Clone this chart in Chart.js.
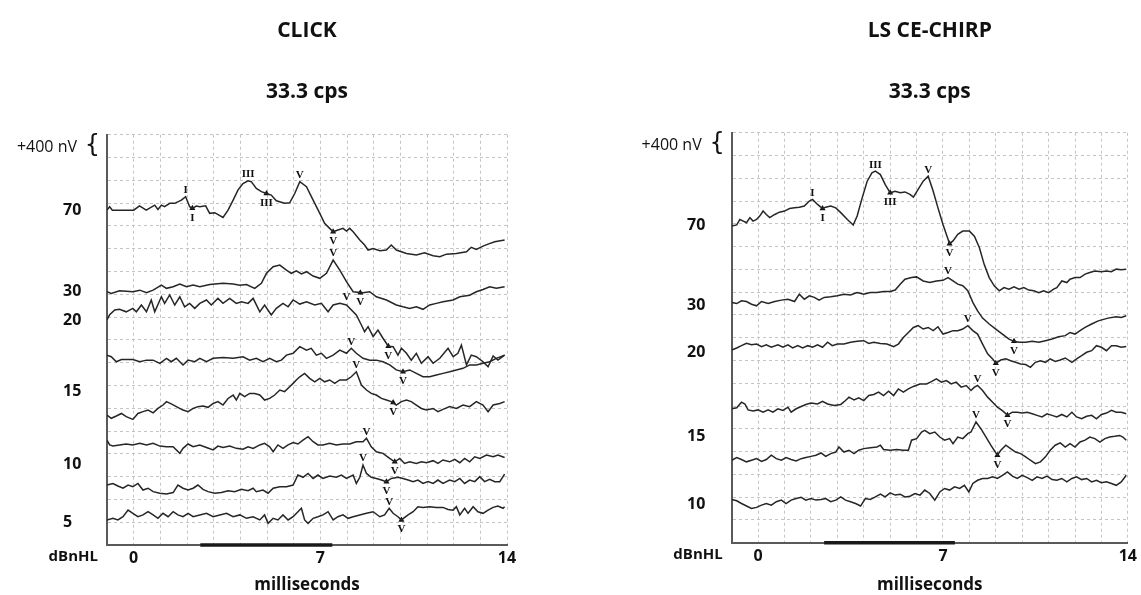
<!DOCTYPE html>
<html>
<head>
<meta charset="utf-8">
<title>ABR waveforms - Click vs LS CE-Chirp</title>
<script src="https://cdn.jsdelivr.net/npm/chart.js@4.4.1/dist/chart.umd.min.js"></script>
<style>
  html, body { margin: 0; padding: 0; background: #fff; }
  #wrap { position: relative; width: 1141px; height: 595px; overflow: hidden; }
  #clickChart { position: absolute; left: 0; top: 0; }
  #chirpChart { position: absolute; left: 600px; top: 0; }
</style>
</head>
<body>
<div id="wrap">
  <canvas id="clickChart" width="570" height="595"></canvas>
  <canvas id="chirpChart" width="541" height="595"></canvas>
</div>
<script>
// time axis in ms, amplitude in grid divisions (18 divisions, bottom = 0)
const xTickLabels = [0, 7, 14];
const stimulusBar = [2.5, 7.45];

// ---- CLICK, 33.3 cps ----
const clickLevels = ['70', '30', '20', '15', '10', '5'];
const clickLevelPos = [14.69, 11.14, 9.87, 6.75, 3.55, 1.0];

const click70 = [[-1,14.69],[-0.9,14.84],[-0.8,14.69],[0,14.69],[0.22,14.88],[0.47,14.69],[0.79,14.91],[0.91,14.72],[1.04,14.91],[1.16,14.84],[1.35,14.99],[1.54,14.99],[1.79,15.13],[1.95,15.28],[2.1,14.84],[2.2,14.77],[2.35,14.87],[2.48,14.84],[2.7,14.88],[2.85,14.55],[3.04,14.58],[3.35,14.37],[3.54,14.69],[3.73,15.13],[3.91,15.57],[4.1,15.86],[4.29,15.98],[4.41,15.94],[4.6,15.64],[4.79,15.5],[4.98,15.42],[5.16,15.35],[5.35,15.1],[5.66,14.99],[5.85,15.01],[6.04,15.42],[6.23,15.94],[6.48,15.72],[6.73,15.13],[6.98,14.55],[7.16,14.11],[7.35,13.89],[7.48,13.74],[7.66,13.82],[7.85,13.89],[7.98,13.77],[8.1,13.89],[8.23,13.74],[8.48,13.38],[8.66,13.16],[8.79,12.94],[8.98,13.01],[9.23,12.91],[9.48,12.94],[9.66,13.16],[9.85,12.94],[10.23,12.79],[10.6,12.72],[10.91,12.82],[11.23,12.69],[11.48,12.65],[11.73,12.76],[12.1,12.79],[12.48,12.86],[12.66,13.06],[12.85,12.97],[13.1,13.11],[13.29,13.2],[13.54,13.3],[13.91,13.38]];
const click30 = [[-1,11.11],[-0.84,11.04],[-0.53,11.15],[-0.03,11.11],[0.23,11.18],[0.48,11.07],[0.73,11.18],[1.04,11.4],[1.23,11.26],[1.48,11.33],[1.73,11.45],[1.98,11.33],[2.23,11.4],[2.48,11.33],[2.85,11.43],[3.35,11.48],[3.73,11.45],[3.98,11.4],[4.23,11.43],[4.54,11.26],[4.79,11.48],[4.98,11.92],[5.23,12.21],[5.48,12.28],[5.73,12.06],[5.91,11.92],[6.1,12.03],[6.29,11.89],[6.48,11.99],[6.73,11.8],[6.98,11.7],[7.23,11.92],[7.48,12.5],[7.73,12.06],[7.98,11.55],[8.23,11.11],[8.6,11.07],[8.85,11.11],[9.1,10.89],[9.48,10.75],[9.85,10.53],[10.1,10.45],[10.35,10.38],[10.6,10.45],[10.85,10.34],[11.1,10.53],[11.35,10.6],[11.6,10.67],[11.98,10.75],[12.23,10.89],[12.6,10.96],[12.85,11.11],[13.1,11.21],[13.35,11.33],[13.6,11.26],[13.91,11.33]];
const click20 = [[-1,9.87],[-0.9,10.1],[-0.71,10.31],[-0.53,10.34],[-0.28,10.23],[-0.03,10.38],[0.1,10.23],[0.29,10.53],[0.48,10.23],[0.66,10.75],[0.79,10.23],[1.04,10.89],[1.16,10.6],[1.35,10.97],[1.54,10.53],[1.73,10.89],[1.91,10.45],[2.1,10.6],[2.29,10.38],[2.48,10.6],[2.73,10.75],[2.91,10.53],[3.16,10.82],[3.35,10.6],[3.6,10.82],[3.85,10.6],[4.04,10.67],[4.29,10.6],[4.48,10.82],[4.73,10.23],[4.91,10.53],[5.16,10.09],[5.35,10.38],[5.6,10.6],[5.79,10.45],[5.98,10.75],[6.23,10.57],[6.48,10.67],[6.79,10.53],[7.04,10.6],[7.29,10.23],[7.48,10.53],[7.73,10.6],[7.98,10.53],[8.35,10.09],[8.54,9.65],[8.66,9.36],[8.79,9.58],[8.98,9.14],[9.16,9.43],[9.35,9.07],[9.55,8.72],[9.73,8.7],[9.91,8.33],[10.04,8.63],[10.23,8.41],[10.41,8.11],[10.6,8.41],[10.79,7.97],[11.04,8.26],[11.23,7.97],[11.48,8.19],[11.79,8.63],[11.98,8.26],[12.16,8.41],[12.29,8.77],[12.48,7.9],[12.66,8.33],[12.85,8.26],[13.1,8.04],[13.29,7.82],[13.48,8.29],[13.66,8.11],[13.91,8.33]];
const click15a = [[-1,8.33],[-0.84,8.26],[-0.65,8.04],[-0.46,8.14],[-0.03,8.14],[0.23,8.04],[0.48,8.11],[0.73,8.11],[0.98,7.97],[1.23,8.19],[1.41,8.04],[1.6,8.19],[1.85,7.9],[2.04,8.11],[2.29,8.04],[2.48,8.19],[2.73,8.04],[2.98,8.19],[3.35,8.23],[3.73,8.19],[4.1,8.26],[4.35,8.11],[4.6,8.19],[4.85,8.04],[5.1,8.19],[5.35,8.04],[5.54,8.11],[5.73,8.33],[5.98,8.41],[6.23,8.7],[6.48,8.55],[6.66,8.63],[6.85,8.33],[7.04,8.41],[7.23,8.19],[7.48,8.33],[7.73,8.55],[7.98,8.41],[8.16,8.63],[8.35,8.41],[8.6,8.19],[8.85,8.11],[9.1,8.11],[9.35,8.04],[9.6,7.9],[9.85,7.68],[10.1,7.6],[10.35,7.68],[10.6,7.53],[10.85,7.38],[11.1,7.38],[11.35,7.46],[11.6,7.53],[11.85,7.6],[12.1,7.68],[12.35,7.75],[12.6,7.9],[12.85,7.9],[13.1,7.97],[13.35,8.04],[13.6,8.19],[13.91,8.33]];
const click15b = [[-1,5.7],[-0.84,5.56],[-0.65,5.66],[-0.46,5.77],[-0.28,5.63],[-0.03,5.51],[0.16,5.77],[0.35,5.85],[0.54,5.92],[0.73,5.8],[0.91,5.99],[1.1,6.14],[1.23,6.29],[1.41,6.19],[1.6,6.07],[1.85,5.92],[2.04,5.85],[2.23,5.99],[2.41,6.07],[2.6,6.1],[2.79,6.04],[2.98,6.21],[3.16,6.29],[3.35,6.14],[3.54,6.43],[3.73,6.58],[3.85,6.36],[3.98,6.65],[4.16,6.51],[4.35,6.65],[4.54,6.65],[4.73,6.58],[4.91,6.36],[5.1,6.43],[5.29,6.58],[5.48,6.8],[5.66,6.73],[5.85,6.94],[5.98,7.09],[6.1,7.24],[6.23,7.38],[6.41,7.53],[6.6,7.31],[6.79,7.16],[6.98,7.31],[7.16,7.16],[7.35,7.24],[7.54,7.09],[7.73,7.24],[7.98,7.24],[8.16,7.38],[8.35,7.6],[8.54,7.02],[8.73,6.8],[8.91,6.65],[9.1,6.58],[9.29,6.43],[9.48,6.36],[9.66,6.29],[9.85,6.14],[10.04,6.29],[10.23,6.36],[10.41,6.29],[10.6,6.14],[10.79,5.99],[10.98,5.92],[11.23,5.99],[11.41,5.85],[11.6,5.95],[11.85,6.07],[12.1,5.99],[12.35,6.14],[12.6,6.07],[12.85,6.29],[13.1,6.14],[13.29,5.85],[13.48,6.14],[13.73,6.21],[13.91,6.29]];
const click10a = [[-1,4.6],[-0.9,4.39],[-0.78,4.34],[-0.53,4.39],[-0.28,4.43],[-0.03,4.39],[0.23,4.46],[0.48,4.39],[0.73,4.46],[0.98,4.34],[1.23,4.31],[1.48,4.31],[1.73,4.02],[1.85,4.24],[2.04,4.43],[2.23,4.31],[2.48,4.39],[2.73,4.28],[2.98,4.17],[3.16,4.34],[3.35,4.28],[3.6,4.34],[3.85,4.24],[4.1,4.2],[4.29,4.31],[4.48,4.24],[4.73,4.39],[4.91,4.46],[5.1,4.31],[5.23,4.09],[5.41,4.39],[5.6,4.24],[5.79,4.39],[5.98,4.49],[6.16,4.43],[6.35,4.6],[6.54,4.75],[6.73,4.53],[6.91,4.39],[7.1,4.39],[7.35,4.46],[7.6,4.39],[7.85,4.43],[8.1,4.43],[8.35,4.53],[8.6,4.53],[8.73,4.68],[8.91,4.31],[9.1,4.09],[9.35,4.02],[9.6,3.8],[9.79,3.65],[9.98,3.8],[10.16,3.58],[10.35,3.65],[10.6,3.58],[10.79,3.65],[10.98,3.61],[11.23,3.7],[11.41,3.58],[11.6,3.73],[11.85,3.65],[12.04,3.76],[12.23,3.61],[12.41,3.8],[12.6,3.65],[12.79,3.87],[12.98,3.8],[13.23,3.95],[13.48,3.87],[13.66,3.95],[13.91,3.84]];
const click10b = [[-1,2.63],[-0.78,2.7],[-0.59,2.59],[-0.4,2.49],[-0.21,2.63],[-0.03,2.56],[0.16,2.7],[0.35,2.41],[0.54,2.49],[0.73,2.34],[0.98,2.27],[1.23,2.24],[1.48,2.3],[1.66,2.63],[1.85,2.49],[2.04,2.41],[2.23,2.49],[2.41,2.63],[2.6,2.44],[2.79,2.34],[3.04,2.27],[3.29,2.3],[3.54,2.38],[3.79,2.34],[4.04,2.44],[4.29,2.38],[4.48,2.49],[4.6,2.34],[4.85,2.41],[5.04,2.27],[5.23,2.49],[5.48,2.56],[5.73,2.56],[5.98,2.63],[6.16,3.07],[6.35,2.97],[6.54,3.14],[6.73,2.92],[6.91,3.07],[7.1,2.92],[7.35,3.03],[7.6,2.97],[7.79,3.07],[7.98,2.92],[8.23,3.07],[8.35,2.7],[8.48,2.97],[8.6,3.51],[8.73,3.14],[8.91,2.97],[9.1,2.92],[9.29,2.85],[9.48,2.78],[9.66,2.92],[9.91,2.97],[10.1,2.92],[10.29,2.85],[10.48,2.78],[10.66,2.85],[10.85,2.7],[11.04,2.78],[11.23,2.7],[11.41,2.85],[11.6,2.7],[11.85,2.85],[12.04,2.78],[12.23,2.92],[12.41,2.7],[12.6,2.85],[12.79,2.78],[12.98,3.0],[13.16,2.78],[13.35,2.88],[13.54,2.78],[13.73,2.78],[13.91,3.11]];
const click5 = [[-1,1.1],[-0.78,1.17],[-0.59,1.1],[-0.4,1.24],[-0.21,1.53],[-0.03,1.39],[0.16,1.24],[0.35,1.32],[0.54,1.46],[0.73,1.32],[0.91,1.17],[1.1,1.39],[1.29,1.24],[1.48,1.46],[1.66,1.32],[1.85,1.24],[2.04,1.39],[2.23,1.24],[2.48,1.32],[2.73,1.39],[2.98,1.24],[3.23,1.32],[3.48,1.39],[3.73,1.24],[3.98,1.32],[4.23,1.17],[4.48,1.24],[4.73,1.1],[4.91,1.32],[5.04,0.95],[5.23,1.17],[5.41,1.1],[5.6,1.32],[5.79,1.1],[5.98,1.24],[6.16,1.46],[6.29,1.61],[6.41,1.1],[6.54,0.95],[6.73,1.17],[6.91,1.24],[7.1,1.32],[7.29,1.46],[7.48,1.1],[7.66,1.24],[7.85,1.32],[8.04,1.17],[8.23,1.24],[8.48,1.32],[8.73,1.39],[8.98,1.46],[9.23,1.24],[9.41,1.32],[9.58,1.61],[9.73,1.39],[9.91,1.24],[10.04,1.1],[10.29,1.32],[10.48,1.46],[10.66,1.68],[10.85,1.65],[11.1,1.68],[11.35,1.65],[11.6,1.65],[11.79,1.56],[11.98,1.53],[12.1,1.68],[12.23,1.32],[12.41,1.61],[12.54,1.39],[12.73,1.68],[12.91,1.46],[13.1,1.39],[13.29,1.53],[13.48,1.65],[13.66,1.71],[13.85,1.61],[13.91,1.68]];

// wave markers: [ms, amplitude, name]
const clickPeaks = [[1.95,15.28,'I'],[4.29,15.98,'III'],[6.23,15.94,'V'],[7.48,12.5,'V'],[7.98,10.6,'V'],[8.16,8.63,'V'],[8.35,7.6,'V'],[8.73,4.68,'V'],[8.6,3.51,'V'],[9.58,1.61,'V']];
const clickTroughs = [[2.2,14.77,'I'],[4.98,15.42,'III'],[7.48,13.74,'V'],[8.5,11.07,'V'],[9.55,8.72,'V'],[10.1,7.6,'V'],[9.73,6.25,'V'],[9.79,3.65,'V'],[9.48,2.78,'V'],[10.04,1.1,'V']];

// ---- LS CE-CHIRP, 33.3 cps ----
const chirpLevels = ['70', '30', '20', '15', '10'];
const chirpLevelPos = [13.95, 10.4, 8.35, 4.67, 1.69];

const chirp70 = [[-1,13.9],[-0.81,13.95],[-0.69,14.19],[-0.56,14.12],[-0.44,14.05],[-0.31,14.27],[-0.19,14.12],[-0.06,14.19],[0.06,14.34],[0.19,14.56],[0.31,14.41],[0.44,14.27],[0.63,14.41],[0.81,14.51],[1.0,14.56],[1.19,14.67],[1.38,14.7],[1.56,14.73],[1.75,14.78],[1.94,15.0],[2.06,15.07],[2.25,14.85],[2.44,14.67],[2.56,14.73],[2.75,14.78],[2.94,14.7],[3.13,14.49],[3.38,14.19],[3.6,13.95],[3.75,14.34],[3.94,15.14],[4.13,15.87],[4.31,16.24],[4.44,16.31],[4.63,16.16],[4.81,15.73],[5.0,15.36],[5.19,15.43],[5.38,15.36],[5.56,15.4],[5.75,15.29],[5.88,15.17],[6.06,15.51],[6.25,15.87],[6.44,16.09],[6.63,15.43],[6.81,14.7],[7.0,13.97],[7.25,13.13],[7.38,13.25],[7.56,13.54],[7.75,13.68],[8.0,13.68],[8.19,13.46],[8.38,12.95],[8.56,12.22],[8.75,11.64],[8.94,11.28],[9.13,11.06],[9.31,11.2],[9.5,11.13],[9.69,11.23],[9.88,11.13],[10.06,11.2],[10.25,11.09],[10.44,11.06],[10.63,10.98],[10.81,11.06],[11.0,10.98],[11.19,11.13],[11.31,11.2],[11.5,11.49],[11.69,11.42],[11.81,11.57],[12.0,11.64],[12.19,11.64],[12.38,11.79],[12.56,11.86],[12.75,11.93],[13.0,11.9],[13.19,11.93],[13.38,11.9],[13.56,12.01],[13.75,11.98],[13.94,12.01]];
const chirp30 = [[-1,10.55],[-0.81,10.5],[-0.63,10.62],[-0.44,10.59],[-0.25,10.47],[-0.06,10.4],[0.13,10.59],[0.38,10.5],[0.63,10.59],[0.88,10.65],[1.13,10.69],[1.38,10.59],[1.56,10.91],[1.75,10.69],[1.94,10.84],[2.13,10.77],[2.31,10.65],[2.5,10.77],[2.75,10.8],[3.0,10.84],[3.25,10.91],[3.5,10.88],[3.75,10.98],[4.0,10.91],[4.25,10.98],[4.5,10.98],[4.75,11.03],[5.0,11.03],[5.19,11.09],[5.38,11.35],[5.56,11.57],[5.81,11.64],[6.0,11.67],[6.25,11.49],[6.5,11.42],[6.75,11.49],[7.0,11.52],[7.19,11.64],[7.38,11.49],[7.56,11.35],[7.75,11.28],[7.94,11.06],[8.13,10.55],[8.31,10.18],[8.5,9.86],[8.75,9.6],[9.0,9.38],[9.25,9.16],[9.5,8.94],[9.69,8.84],[9.88,8.8],[10.13,8.8],[10.38,8.84],[10.63,8.8],[10.88,8.87],[11.13,8.94],[11.38,9.04],[11.63,9.09],[11.81,9.23],[12.0,9.16],[12.19,9.31],[12.38,9.45],[12.63,9.6],[12.88,9.74],[13.25,9.86],[13.56,9.92],[13.75,9.89],[13.94,9.96]];
const chirp20 = [[-1,8.46],[-0.81,8.55],[-0.63,8.65],[-0.44,8.75],[-0.25,8.69],[-0.06,8.72],[0.13,8.61],[0.31,8.69],[0.5,8.58],[0.75,8.69],[0.94,8.58],[1.13,8.69],[1.31,8.55],[1.5,8.65],[1.69,8.55],[1.88,8.65],[2.06,8.58],[2.25,8.69],[2.44,8.58],[2.63,8.8],[2.81,8.65],[3.0,8.72],[3.25,8.72],[3.5,8.8],[3.75,8.84],[4.0,8.87],[4.19,8.75],[4.38,8.8],[4.63,8.75],[4.88,8.72],[5.13,8.61],[5.31,8.72],[5.5,9.01],[5.69,9.23],[5.88,9.45],[6.06,9.53],[6.25,9.38],[6.44,9.45],[6.63,9.31],[6.81,9.48],[7.0,9.16],[7.19,9.23],[7.38,9.31],[7.56,9.31],[7.75,9.38],[7.94,9.53],[8.13,9.31],[8.31,9.16],[8.5,8.72],[8.69,8.29],[8.88,8.07],[9.0,7.88],[9.19,8.02],[9.38,8.07],[9.56,7.99],[9.75,7.92],[9.94,7.85],[10.13,7.82],[10.31,7.7],[10.5,7.92],[10.69,7.99],[10.88,7.92],[11.06,8.07],[11.25,7.96],[11.44,8.02],[11.63,8.11],[11.88,7.92],[12.06,8.07],[12.25,8.21],[12.44,8.36],[12.63,8.43],[12.81,8.65],[13.0,8.58],[13.19,8.43],[13.38,8.65],[13.56,8.65],[13.75,8.58],[13.94,8.61]];
const chirp15a = [[-1,5.88],[-0.81,5.92],[-0.63,6.17],[-0.5,6.09],[-0.38,5.83],[-0.19,5.78],[0,5.83],[0.19,5.73],[0.38,5.83],[0.56,5.73],[0.75,5.88],[0.94,5.81],[1.13,5.95],[1.25,5.73],[1.44,5.88],[1.63,5.98],[1.81,6.07],[2.0,6.13],[2.25,6.09],[2.44,6.21],[2.63,6.09],[2.88,6.02],[3.13,6.07],[3.31,6.24],[3.44,6.39],[3.63,6.27],[3.81,6.36],[4.0,6.24],[4.19,6.46],[4.38,6.51],[4.56,6.61],[4.75,6.46],[4.94,6.65],[5.13,6.46],[5.31,6.75],[5.5,6.61],[5.69,6.75],[5.88,6.86],[6.13,6.97],[6.38,6.97],[6.56,7.07],[6.75,7.19],[6.94,7.05],[7.13,7.12],[7.31,6.97],[7.5,7.05],[7.69,6.83],[7.88,6.9],[8.06,6.68],[8.19,6.83],[8.31,6.9],[8.5,6.68],[8.69,6.39],[8.88,6.17],[9.06,5.95],[9.25,5.8],[9.44,5.6],[9.63,5.73],[9.81,5.73],[10.0,5.69],[10.19,5.73],[10.38,5.66],[10.56,5.59],[10.75,5.52],[10.94,5.66],[11.13,5.59],[11.31,5.52],[11.5,5.63],[11.69,5.52],[11.88,5.73],[12.06,5.52],[12.25,5.44],[12.44,5.55],[12.63,5.59],[12.81,5.44],[13.0,5.63],[13.19,5.69],[13.38,5.81],[13.56,5.73],[13.75,5.73],[13.94,5.66]];
const chirp15b = [[-1,3.62],[-0.81,3.74],[-0.63,3.65],[-0.44,3.55],[-0.25,3.62],[-0.06,3.69],[0.13,3.57],[0.31,3.65],[0.5,3.84],[0.69,3.69],[0.88,3.62],[1.06,3.74],[1.25,3.65],[1.44,3.59],[1.63,3.69],[1.81,3.74],[2.0,3.79],[2.19,3.84],[2.38,3.94],[2.56,3.79],[2.75,3.91],[2.94,3.98],[3.06,4.2],[3.25,3.98],[3.44,4.06],[3.63,3.91],[3.81,4.06],[4.0,4.13],[4.25,4.17],[4.5,4.2],[4.63,4.28],[4.75,4.09],[5.0,4.06],[5.25,4.09],[5.5,4.06],[5.69,4.06],[5.81,4.5],[6.0,4.57],[6.19,4.86],[6.31,4.93],[6.5,4.79],[6.69,4.86],[6.88,4.64],[7.06,4.5],[7.25,4.57],[7.38,4.35],[7.56,4.64],[7.75,4.57],[7.94,4.79],[8.06,4.86],[8.25,5.3],[8.44,5.0],[8.63,4.64],[8.81,4.28],[9.06,3.84],[9.19,4.06],[9.38,4.28],[9.56,4.13],[9.75,3.98],[9.94,3.91],[10.13,3.77],[10.31,3.62],[10.5,3.47],[10.69,3.55],[10.88,3.77],[11.06,4.06],[11.25,4.28],[11.44,4.38],[11.63,4.2],[11.81,4.35],[12.0,4.2],[12.19,4.42],[12.38,4.5],[12.56,4.64],[12.75,4.57],[12.94,4.42],[13.13,4.57],[13.31,4.64],[13.5,4.67],[13.69,4.71],[13.81,4.64],[13.94,4.5]];
const chirp10 = [[-1,1.9],[-0.81,1.84],[-0.63,1.72],[-0.44,1.61],[-0.25,1.5],[-0.06,1.55],[0.13,1.65],[0.31,1.72],[0.5,1.65],[0.69,1.8],[0.88,1.87],[1.06,1.72],[1.25,1.87],[1.44,1.94],[1.63,1.99],[1.81,1.87],[2.0,1.94],[2.19,1.87],[2.38,1.9],[2.56,1.94],[2.75,1.8],[2.94,1.87],[3.13,2.01],[3.31,1.87],[3.5,1.8],[3.69,1.72],[3.88,1.61],[4.06,1.94],[4.25,1.9],[4.44,2.01],[4.63,2.13],[4.81,2.01],[5.0,2.19],[5.19,2.09],[5.38,2.13],[5.56,2.01],[5.75,2.04],[5.94,2.16],[6.13,2.09],[6.31,2.31],[6.5,2.16],[6.69,1.87],[6.88,2.23],[7.06,2.38],[7.25,2.31],[7.44,2.45],[7.63,2.38],[7.81,2.52],[7.98,2.23],[8.13,2.6],[8.31,2.74],[8.5,2.82],[8.69,2.82],[8.88,2.89],[9.06,2.82],[9.25,2.96],[9.44,3.11],[9.63,2.92],[9.81,2.82],[10.0,2.96],[10.19,2.86],[10.38,2.74],[10.56,2.89],[10.75,2.82],[10.94,2.92],[11.13,2.77],[11.31,2.74],[11.5,2.82],[11.69,2.67],[11.88,2.82],[12.06,2.89],[12.25,2.77],[12.44,2.82],[12.63,2.67],[12.81,2.74],[13.0,2.63],[13.19,2.67],[13.38,2.6],[13.56,2.52],[13.75,2.67],[13.94,2.96]];

const chirpPeaks = [[2.06,15.07,'I'],[4.44,16.31,'III'],[6.44,16.09,'V'],[7.19,11.64,'V'],[7.94,9.53,'V'],[8.31,6.9,'V'],[8.25,5.3,'V']];
const chirpTroughs = [[2.44,14.67,'I'],[5.0,15.36,'III'],[7.25,13.13,'V'],[9.69,8.84,'V'],[9.0,7.88,'V'],[9.44,5.6,'V'],[9.06,3.84,'V']];

const ink = '#111';
const traceColor = '#262626';
const gridColor = '#c4c4c4';
const sansBold = (size) => ({ family: 'Open Sans', weight: 'bold', size: size });

// wave names, the nV scale mark and the dBnHL caption
const waveLabels = {
    id: 'waveLabels',
    afterDatasetsDraw(chart, args, opts) {
        const { ctx, chartArea, scales: { x, y } } = chart;
        ctx.save();
        ctx.fillStyle = ink;
        ctx.textAlign = 'center';
        ctx.font = 'bold 11px "Liberation Serif"';
        ctx.textBaseline = 'bottom';
        opts.peaks.forEach(([t, a, name]) => {
            ctx.fillText(name, x.getPixelForValue(t), y.getPixelForValue(a) - 1);
        });
        ctx.textBaseline = 'top';
        opts.troughs.forEach(([t, a, name]) => {
            ctx.fillText(name, x.getPixelForValue(t), y.getPixelForValue(a) + 4);
        });

        ctx.textAlign = 'right';
        ctx.textBaseline = 'middle';
        ctx.font = '16px "Open Sans"';
        ctx.fillText('+400 nV', chartArea.left - 30, chartArea.top + 13);
        ctx.font = '24px "DejaVu Sans"';
        ctx.fillText('{', chartArea.left - 7, chartArea.top + 11);
        ctx.font = 'bold 15px "Open Sans"';
        ctx.fillText('dBnHL', chartArea.left - 9, chartArea.bottom + 12);
        ctx.restore();
    }
};

function makeWaveChart(canvasId, cfg) {
    const ctx = document.getElementById(canvasId).getContext('2d');

    const datasets = cfg.traces.map(tr => ({
        type: 'line',
        data: tr.map(([t, a]) => ({ x: t, y: a })),
        borderColor: traceColor,
        borderWidth: 1.5,
        pointRadius: 0,
        tension: 0,
        fill: false
    }));

    // stimulus bar sitting on the time axis
    datasets.push({
        type: 'line',
        data: [{ x: stimulusBar[0], y: 0 }, { x: stimulusBar[1], y: 0 }],
        borderColor: '#1a1a1a',
        borderWidth: 3.5,
        pointRadius: 0,
        clip: 6
    });

    // trough markers
    datasets.push({
        type: 'scatter',
        data: cfg.troughs.map(([t, a]) => ({ x: t, y: a })),
        pointStyle: 'triangle',
        pointRadius: 3.5,
        backgroundColor: ink,
        borderColor: ink,
        borderWidth: 0
    });

    const gridCount = 19; // integer grid ticks 0..18

    return new Chart(ctx, {
        type: 'line',
        data: { datasets: datasets },
        plugins: [waveLabels],
        options: {
            responsive: false,
            animation: false,
            events: [],
            devicePixelRatio: 1,
            layout: { padding: cfg.padding },
            plugins: {
                legend: { display: false },
                tooltip: { enabled: false },
                title: {
                    display: true,
                    text: cfg.title,
                    fullSize: false,
                    color: ink,
                    font: sansBold(21),
                    padding: { top: 18, bottom: 36 }
                },
                subtitle: {
                    display: true,
                    text: '33.3 cps',
                    fullSize: false,
                    color: ink,
                    font: sansBold(21),
                    padding: { top: 0, bottom: cfg.subtitleGap }
                },
                waveLabels: { peaks: cfg.peaks, troughs: cfg.troughs }
            },
            scales: {
                x: {
                    type: 'linear',
                    min: -1,
                    max: 14,
                    afterFit: scale => { scale.height = cfg.xAxisHeight; },
                    ticks: {
                        stepSize: 1,
                        autoSkip: false,
                        maxRotation: 0,
                        padding: 4,
                        color: ink,
                        font: sansBold(16),
                        callback: v => xTickLabels.includes(v) ? String(v) : ''
                    },
                    grid: { color: gridColor, drawTicks: false, lineWidth: 1 },
                    border: { display: true, color: '#5a5a5a', width: 2, dash: [3, 3] },
                    title: {
                        display: true,
                        text: 'milliseconds',
                        color: ink,
                        font: sansBold(17),
                        padding: { top: 0, bottom: 0 }
                    }
                },
                y: {
                    type: 'linear',
                    min: 0,
                    max: 18,
                    afterBuildTicks: scale => {
                        const ticks = [];
                        for (let v = 0; v < gridCount; v++) ticks.push({ value: v });
                        cfg.levelPos.forEach(v => ticks.push({ value: v }));
                        scale.ticks = ticks;
                    },
                    afterFit: scale => { scale.width = cfg.yAxisWidth; },
                    ticks: {
                        autoSkip: false,
                        crossAlign: 'far',
                        padding: 0,
                        color: ink,
                        font: sansBold(16),
                        callback: (v, i) => i >= gridCount ? cfg.levels[i - gridCount] : ''
                    },
                    grid: {
                        color: c => c.index < gridCount ? gridColor : 'rgba(0,0,0,0)',
                        drawTicks: false,
                        lineWidth: 1
                    },
                    border: { display: true, color: '#5a5a5a', width: 2, dash: [3, 3] }
                }
            }
        }
    });
}

makeWaveChart('clickChart', {
    title: 'CLICK',
    traces: [click70, click30, click20, click15a, click15b, click10a, click10b, click5],
    levels: clickLevels,
    levelPos: clickLevelPos,
    peaks: clickPeaks,
    troughs: clickTroughs,
    padding: { left: 63, right: 63, top: 0, bottom: 0 },
    yAxisWidth: 44,
    xAxisHeight: 50,
    subtitleGap: 30.3
});

makeWaveChart('chirpChart', {
    title: 'LS CE-CHIRP',
    traces: [chirp70, chirp30, chirp20, chirp15a, chirp15b, chirp10],
    levels: chirpLevels,
    levelPos: chirpLevelPos,
    peaks: chirpPeaks,
    troughs: chirpTroughs,
    padding: { left: 87, right: 9.3, top: 0, bottom: 0 },
    yAxisWidth: 44.7,
    xAxisHeight: 52.3,
    subtitleGap: 28.3
});
</script>
</body>
</html>
